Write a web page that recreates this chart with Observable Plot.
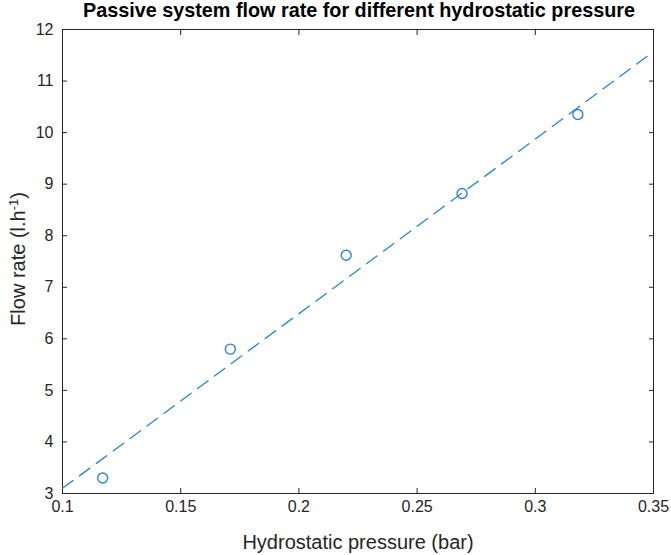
<!DOCTYPE html>
<html>
<head>
<meta charset="utf-8">
<script src="https://cdn.jsdelivr.net/npm/d3@7"></script>
<script src="https://cdn.jsdelivr.net/npm/@observablehq/plot@0.6"></script>
<style>
  html, body { margin: 0; padding: 0; background: #fff; }
  #chart svg { display: block; }
</style>
</head>
<body>
<div id="chart"></div>
<script>
const titleText = "Passive system flow rate for different hydrostatic pressure";
const xLabel = "Hydrostatic pressure (bar)";
const yLabelMain = "Flow rate (l.h";
const yLabelSup = "-1";
const pressure = [0.117, 0.171, 0.220, 0.269, 0.318];
const flowRate = [3.30, 5.80, 7.62, 8.82, 10.35];
const fitPressure = [0.10, 0.35];
const fitFlow = [3.10, 11.57];
const xTicks = [0.1, 0.15, 0.2, 0.25, 0.3, 0.35];
const yTicks = [3, 4, 5, 6, 7, 8, 9, 10, 11, 12];

const points = pressure.map((p, i) => ({p, f: flowRate[i]}));
const fit = fitPressure.map((p, i) => ({p, f: fitFlow[i]}));

const blue = "#2a86cc";
const axisColor = "#262626";
const font = "'Liberation Sans', Arial, Helvetica, sans-serif";

const plot = Plot.plot({
  width: 671,
  height: 555,
  marginTop: 29,
  marginBottom: 62,
  marginLeft: 62,
  marginRight: 18,
  style: {fontFamily: font, fontSize: "16px", color: axisColor, background: "#fff"},
  x: {domain: [0.1, 0.35], ticks: xTicks},
  y: {domain: [3, 12], ticks: yTicks},
  marks: [
    Plot.axisX({anchor: "bottom", ticks: xTicks, tickSize: -5, tickPadding: 12, label: null, tickFormat: d => String(d), stroke: axisColor, fill: axisColor, fontSize: 16}),
    Plot.axisX({anchor: "top", ticks: xTicks, tickSize: -5, tickFormat: () => "", label: null, stroke: axisColor}),
    Plot.axisY({anchor: "left", ticks: yTicks, tickSize: -5, tickPadding: 14, label: null, stroke: axisColor, fill: axisColor, fontSize: 16}),
    Plot.axisY({anchor: "right", ticks: yTicks, tickSize: -5, tickFormat: () => "", label: null, stroke: axisColor}),
    Plot.frame({stroke: axisColor, strokeWidth: 1}),
    Plot.line(fit, {x: "p", y: "f", stroke: blue, strokeWidth: 1.3, strokeDasharray: "13,8", clip: true}),
    Plot.dot(points, {x: "p", y: "f", r: 5, stroke: blue, strokeWidth: 1.4, fill: "none"})
  ]
});
document.getElementById("chart").appendChild(plot);

const svg = d3.select(plot);
// title
svg.append("text")
  .attr("x", 359).attr("y", 17)
  .attr("text-anchor", "middle")
  .attr("fill", "#000")
  .attr("font-family", font)
  .attr("font-weight", "bold")
  .attr("font-size", 19.8)
  .text(titleText);
// x label
svg.append("text")
  .attr("x", 358).attr("y", 549)
  .attr("text-anchor", "middle")
  .attr("fill", axisColor)
  .attr("font-family", font)
  .attr("font-size", 20)
  .text(xLabel);
// y label with superscript
const yl = svg.append("text")
  .attr("transform", "translate(25,259) rotate(-90)")
  .attr("text-anchor", "middle")
  .attr("fill", axisColor)
  .attr("font-family", font)
  .attr("font-size", 20);
yl.append("tspan").text(yLabelMain);
yl.append("tspan").attr("baseline-shift", "super").attr("font-size", 13).text(yLabelSup);
yl.append("tspan").text(")");
</script>
</body>
</html>
